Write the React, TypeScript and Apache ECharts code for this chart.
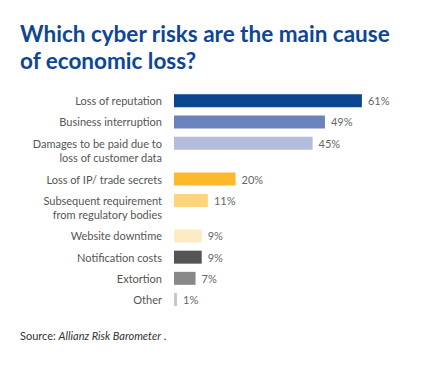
import React, { useEffect, useRef } from "react";
import * as echarts from "echarts";

const TITLE = "Which cyber risks are the main cause\nof economic loss?";
const categories = [
  "Loss of reputation",
  "Business interruption",
  "Damages to be paid due to\nloss of customer data",
  "Loss of IP/ trade secrets",
  "Subsequent requirement\nfrom regulatory bodies",
  "Website downtime",
  "Notification costs",
  "Extortion",
  "Other",
];
const values = [61, 49, 45, 20, 11, 9, 9, 7, 1];
const barColors = [
  "#0a4590",
  "#6b82bd",
  "#b3bcdc",
  "#fdb92b",
  "#fed57e",
  "#feebc3",
  "#555555",
  "#888888",
  "#c8c8c8",
];
const groupSizes = [3, 2, 4];
const groupLayout = [
  { top: 90, height: 63.75 },
  { top: 168.25, height: 43 },
  { top: 225.4, height: 84.7 },
];

const FONT = "Lato, sans-serif";

export default function App() {
  const ref = useRef<HTMLDivElement>(null);
  useEffect(() => {
    if (!ref.current) return;
    const chart = echarts.init(ref.current, null, { renderer: "svg" });
    const grids: any[] = [];
    const xAxes: any[] = [];
    const yAxes: any[] = [];
    const series: any[] = [];
    let start = 0;
    groupSizes.forEach((n, gi) => {
      const cats = categories.slice(start, start + n);
      const vals = values.slice(start, start + n);
      const cols = barColors.slice(start, start + n);
      start += n;
      grids.push({ left: 174, width: 215.6, top: groupLayout[gi].top, height: groupLayout[gi].height });
      xAxes.push({ type: "value", gridIndex: gi, min: 0, max: 70, show: false });
      yAxes.push({
        type: "category",
        gridIndex: gi,
        data: cats,
        inverse: true,
        axisLine: { show: false },
        axisTick: { show: false },
        axisLabel: {
          interval: 0,
          hideOverlap: false,
          margin: 12,
          fontSize: 11,
          fontFamily: FONT,
          color: "#555",
          lineHeight: 14,
          align: "right",
          formatter: (v: string) => (v.includes("\n") ? " \n" + v : v),
        },
      });
      series.push({
        type: "bar",
        xAxisIndex: gi,
        yAxisIndex: gi,
        barWidth: 13,
        data: vals.map((v, i) => ({ value: v, itemStyle: { color: cols[i] } })),
        label: {
          show: true,
          position: "right",
          distance: 6,
          formatter: "{c}%",
          fontSize: 11,
          fontFamily: FONT,
          color: "#666",
        },
      });
    });
    chart.setOption({
      animation: false,
      backgroundColor: "#fff",
      grid: grids,
      xAxis: xAxes,
      yAxis: yAxes,
      series,
      graphic: [
        {
          type: "text",
          left: 20,
          top: 20,
          style: {
            text: TITLE,
            font: "bold 22.5px Lato, sans-serif",
            fill: "#0d4694",
            lineHeight: 27,
          },
        },
        {
          type: "text",
          left: 20,
          top: 330,
          style: {
            text: "{r|Source: }{i|Allianz Risk Barometer}{r| .}",
            rich: {
              r: { fontSize: 11, fontFamily: FONT, fill: "#333" },
              i: { fontSize: 11, fontFamily: FONT, fontStyle: "italic", fill: "#333" },
            },
          },
        },
      ],
    });
    return () => chart.dispose();
  }, []);
  return <div ref={ref} style={{ width: 428, height: 391, position: "absolute", left: 0, top: 0 }} />;
}
